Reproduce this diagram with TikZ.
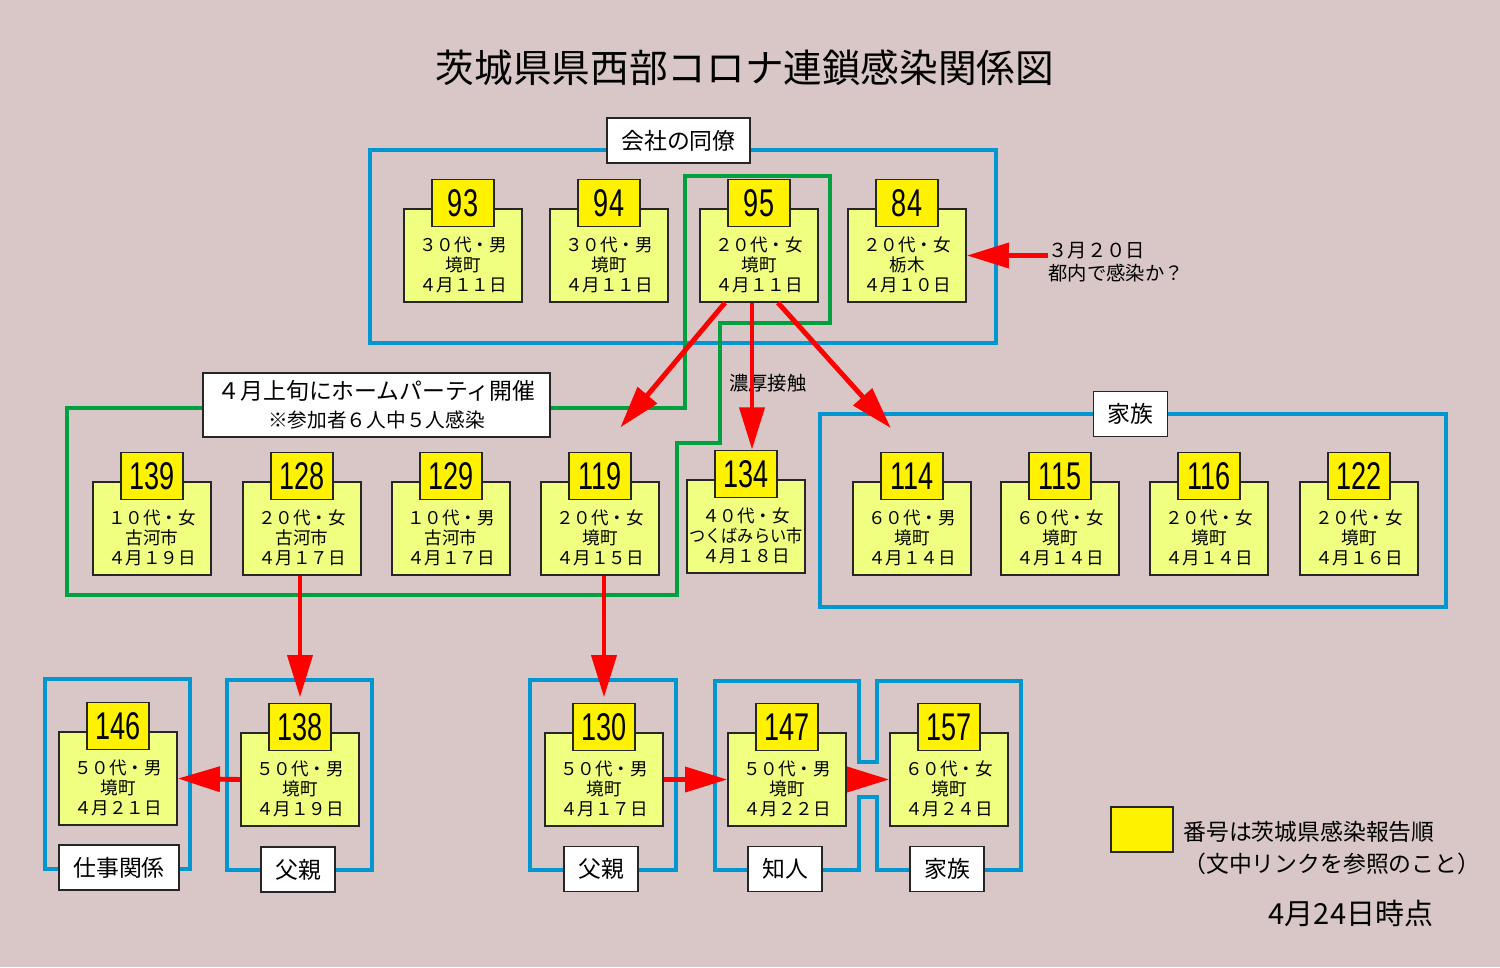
\documentclass[tikz,border=0pt]{standalone}
\usepackage{fontspec}
\setmainfont{Noto Sans CJK JP}
\newfontfamily\numfont{Liberation Sans}
\usepackage{graphicx}
\usetikzlibrary{positioning,calc,arrows.meta}

\definecolor{bgpink}{RGB}{217,199,199}
\definecolor{grpblue}{RGB}{0,150,210}
\definecolor{partygreen}{RGB}{0,160,64}
\definecolor{cardyellow}{RGB}{240,255,128}
\newcommand{\casenum}[1]{\scalebox{0.7}[1]{#1}}

\begin{document}
\begin{tikzpicture}[
        x=0.02cm, y=-0.02cm,
        every node/.style={font=\fontsize{10}{11.3}\selectfont},
        card/.style={
            draw=black!85,
            line width=0.9pt,
            fill=cardyellow,
            minimum width=2.36cm,
            minimum height=1.86cm,
            inner sep=0pt
        },
        tab/.style={
            draw=black!85,
            line width=0.9pt,
            fill=yellow,
            minimum width=1.24cm,
            minimum height=0.94cm,
            inner sep=0pt,
            font=\numfont\fontsize{22}{22}\selectfont
        },
        info/.style={align=center, inner sep=0pt},
        tag/.style={
            draw=black!85,
            line width=1pt,
            fill=white,
            minimum height=0.9cm,
            inner xsep=8pt,
            font=\fontsize{13}{15}\selectfont
        },
        grp/.style={draw=grpblue, line width=2.2pt},
        partyline/.style={draw=partygreen, line width=2.6pt},
        arrow/.style={draw=red, line width=2.8pt, -{Triangle[length=24pt,width=14pt]}}
    ]

    % Background
    \fill[bgpink] (0,0) rectangle (1500,967);
    \useasboundingbox (0,0) rectangle (1500,967);

    % Title
    \node[font=\fontsize{22}{26}\selectfont] (title) at (745,68) {茨城県県西部コロナ連鎖感染関係図};

    % Groups
    \draw[grp] (370,150) rectangle (996,343);
    \draw[grp] (820,414) rectangle (1446,607);
    \draw[grp] (45,679) rectangle (190,869);
    \draw[grp] (227,680) rectangle (372,870);
    \draw[grp] (530,680) rectangle (676,870);
    \draw[grp] (715,681) -- (859,681) -- (859,762) -- (877,762) -- (877,681) -- (1021,681)
        -- (1021,870) -- (877,870) -- (877,797) -- (859,797) -- (859,870) -- (715,870) -- cycle;

    % Home party
    \draw[partyline] (685,176) -- (830,176) -- (830,323) -- (720,323) -- (720,443) -- (677,443)
        -- (677,595) -- (67,595) -- (67,408) -- (685,408) -- cycle;

    % Group labels
    \node[tag] (coworkers) at (678.5,140.5) {会社の同僚};
    \node[tag] (family) at (1130.5,414) {家族};
    \node[tag, minimum width=6.94cm, minimum height=1.28cm, align=center] (partytag) at (376.5,405)
        {\fontsize{13}{16}\selectfont ４月上旬にホームパーティ開催\\[1pt]\fontsize{11.2}{13}\selectfont ※参加者６人中５人感染};
    \node[tag] (work) at (119,867.5) {仕事関係};
    \node[tag] (fatherA) at (298,869.5) {父親};
    \node[tag] (fatherB) at (601,869) {父親};
    \node[tag] (friend) at (785,869) {知人};
    \node[tag] (familyB) at (947,869) {家族};

    % Top row
    \node[card] (p93) at (463,255.5) {};
    \node[tab, above=-0.38cm of p93.north] (p93n) {\casenum{93}};
    \node[info] (p93t) at ([yshift=-5.5pt]p93.center) {３０代・男\\境町\\４月１１日};
    \node[card] (p94) at (609,255.5) {};
    \node[tab, above=-0.38cm of p94.north] (p94n) {\casenum{94}};
    \node[info] (p94t) at ([yshift=-5.5pt]p94.center) {３０代・男\\境町\\４月１１日};
    \node[card] (p95) at (759,255.5) {};
    \node[tab, above=-0.38cm of p95.north] (p95n) {\casenum{95}};
    \node[info] (p95t) at ([yshift=-5.5pt]p95.center) {２０代・女\\境町\\４月１１日};
    \node[card] (p84) at (907,255.5) {};
    \node[tab, above=-0.38cm of p84.north] (p84n) {\casenum{84}};
    \node[info] (p84t) at ([yshift=-5.5pt]p84.center) {２０代・女\\栃木\\４月１０日};

    % Middle row
    \node[card] (p139) at (152,528.5) {};
    \node[tab, above=-0.38cm of p139.north] (p139n) {\casenum{139}};
    \node[info] (p139t) at ([yshift=-5.5pt]p139.center) {１０代・女\\古河市\\４月１９日};
    \node[card] (p128) at (302,528.5) {};
    \node[tab, above=-0.38cm of p128.north] (p128n) {\casenum{128}};
    \node[info] (p128t) at ([yshift=-5.5pt]p128.center) {２０代・女\\古河市\\４月１７日};
    \node[card] (p129) at (451,528.5) {};
    \node[tab, above=-0.38cm of p129.north] (p129n) {\casenum{129}};
    \node[info] (p129t) at ([yshift=-5.5pt]p129.center) {１０代・男\\古河市\\４月１７日};
    \node[card] (p119) at (600,528.5) {};
    \node[tab, above=-0.38cm of p119.north] (p119n) {\casenum{119}};
    \node[info] (p119t) at ([yshift=-5.5pt]p119.center) {２０代・女\\境町\\４月１５日};
    \node[card] (p134) at (746,526.5) {};
    \node[tab, above=-0.38cm of p134.north] (p134n) {\casenum{134}};
    \node[info] (p134t) at ([yshift=-5.5pt]p134.center) {４０代・女\\\scalebox{0.92}[1]{つくばみらい市}\\４月１８日};
    \node[card] (p114) at (912,528.5) {};
    \node[tab, above=-0.38cm of p114.north] (p114n) {\casenum{114}};
    \node[info] (p114t) at ([yshift=-5.5pt]p114.center) {６０代・男\\境町\\４月１４日};
    \node[card] (p115) at (1060,528.5) {};
    \node[tab, above=-0.38cm of p115.north] (p115n) {\casenum{115}};
    \node[info] (p115t) at ([yshift=-5.5pt]p115.center) {６０代・女\\境町\\４月１４日};
    \node[card] (p116) at (1209,528.5) {};
    \node[tab, above=-0.38cm of p116.north] (p116n) {\casenum{116}};
    \node[info] (p116t) at ([yshift=-5.5pt]p116.center) {２０代・女\\境町\\４月１４日};
    \node[card] (p122) at (1359,528.5) {};
    \node[tab, above=-0.38cm of p122.north] (p122n) {\casenum{122}};
    \node[info] (p122t) at ([yshift=-5.5pt]p122.center) {２０代・女\\境町\\４月１６日};

    % Bottom row
    \node[card] (p146) at (118,778.5) {};
    \node[tab, above=-0.38cm of p146.north] (p146n) {\casenum{146}};
    \node[info] (p146t) at ([yshift=-5.5pt]p146.center) {５０代・男\\境町\\４月２１日};
    \node[card] (p138) at (300,779.5) {};
    \node[tab, above=-0.38cm of p138.north] (p138n) {\casenum{138}};
    \node[info] (p138t) at ([yshift=-5.5pt]p138.center) {５０代・男\\境町\\４月１９日};
    \node[card] (p130) at (604,779.5) {};
    \node[tab, above=-0.38cm of p130.north] (p130n) {\casenum{130}};
    \node[info] (p130t) at ([yshift=-5.5pt]p130.center) {５０代・男\\境町\\４月１７日};
    \node[card] (p147) at (787,779.5) {};
    \node[tab, above=-0.38cm of p147.north] (p147n) {\casenum{147}};
    \node[info] (p147t) at ([yshift=-5.5pt]p147.center) {５０代・男\\境町\\４月２２日};
    \node[card] (p157) at (949,779.5) {};
    \node[tab, above=-0.38cm of p157.north] (p157n) {\casenum{157}};
    \node[info] (p157t) at ([yshift=-5.5pt]p157.center) {６０代・女\\境町\\４月２４日};

    % Notes
    \node[anchor=west, font=\fontsize{11}{13}\selectfont] (contact) at (723,383) {濃厚接触};
    \node[anchor=west, align=left, inner sep=0pt, font=\fontsize{11}{13}\selectfont] (note) at (1048,262) {３月２０日\\都内で感染か？};

    % Arrows
    \draw[arrow] (p84.east -| note.west) -- (p84.east);
    \draw[arrow, shorten >=18pt] ($(p95.south)+(-34,0)$) -- (p119n.north);
    \draw[arrow] ($(p95.south)+(-7,0)$) coordinate (c134) -- (c134 |- p134n.north);
    \draw[arrow, shorten >=18pt] ($(p95.south)+(19,0)$) -- (p114n.north);
    \draw[arrow, shorten >=3pt] (p128.south -| p138n.north) -- (p138n.north);
    \draw[arrow, shorten >=3pt] (p119.south -| p130n.north) -- (p130n.north);
    \draw[arrow] (p138.west) -- (p146.east);
    \draw[arrow] (p130.east) -- (p147.west);
    \draw[arrow] (p147.east) -- (p157.west);

    % Legend
    \node[draw=black!85, line width=1pt, fill=yellow, minimum width=1.24cm, minimum height=0.9cm] (key) at (1142,829.5) {};
    \node[anchor=west, align=left, inner sep=0pt, font=\fontsize{13}{18}\selectfont] (keytext) at (1183,848) {番号は茨城県感染報告順\\（文中リンクを参照のこと）};
    \node[font=\fontsize{16.5}{18}\selectfont] (date) at (1351,913) {4月24日時点};

\end{tikzpicture}
\end{document}
